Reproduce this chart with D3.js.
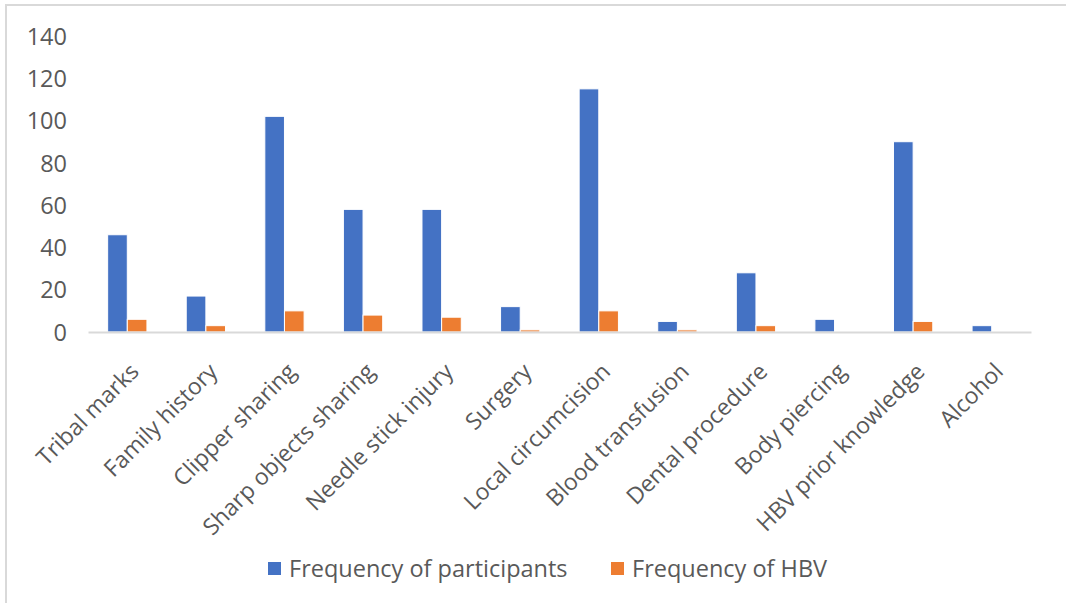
<!DOCTYPE html>
<html>
<head>
<meta charset="utf-8">
<script src="https://cdn.jsdelivr.net/npm/d3@7"></script>
<style>
  html, body { margin: 0; padding: 0; background: #fff; }
  svg { display: block; }
  text { font-family: "Open Sans", "Noto Sans", sans-serif; fill: #595959; }
</style>
</head>
<body>
<svg id="chart" width="1066" height="603"></svg>
<script>
// Risk factors and counts
const categories = [
  "Tribal marks", "Family history", "Clipper sharing", "Sharp objects sharing",
  "Needle stick injury", "Surgery", "Local circumcision", "Blood transfusion",
  "Dental procedure", "Body piercing", "HBV prior knowledge", "Alcohol"
];
const participants = [46, 17, 102, 58, 58, 12, 115, 5, 28, 6, 90, 3];
const hbv = [6, 3, 10, 8, 7, 1, 10, 1, 3, 0, 5, 0];
const seriesNames = ["Frequency of participants", "Frequency of HBV"];
const seriesColors = ["#4472C4", "#ED7D31"];
const yTicks = [0, 20, 40, 60, 80, 100, 120, 140];

const svg = d3.select("#chart");
const W = 1066, H = 603;
const plot = { left: 88, right: 1031, top: 36, bottom: 332 };
const fontSize = "23.5px";
const catFontSize = "23px";

// Outer frame (left and top edges)
svg.append("path")
  .attr("d", `M6,${H} L6,5 L${W},5`)
  .attr("fill", "none")
  .attr("stroke", "#d9d9d9")
  .attr("stroke-width", 2);

const x0 = d3.scaleBand().domain(categories).range([plot.left, plot.right]).paddingInner(0).paddingOuter(0);
const x1 = d3.scaleBand().domain(seriesNames).range([0, x0.bandwidth() * 0.5]);
const y = d3.scaleLinear().domain([0, 140]).range([plot.bottom, plot.top]);

// Y axis labels (no line, no ticks)
const yAxis = d3.axisLeft(y).tickValues(yTicks).tickSize(0).tickPadding(0);
const yg = svg.append("g").attr("transform", `translate(67,0)`).call(yAxis);
yg.select(".domain").remove();
yg.selectAll("text").style("font-size", fontSize).attr("fill", "#595959").attr("dy", "0.35em");

// Bars
const rows = categories.map((c, i) => ({ cat: c, vals: [participants[i], hbv[i]] }));
const groups = svg.append("g").selectAll("g").data(rows).join("g")
  .attr("transform", d => `translate(${x0(d.cat) + x0.bandwidth() * 0.25},0)`);
groups.selectAll("rect")
  .data(d => d.vals.map((v, k) => ({ name: seriesNames[k], v, k })))
  .join("rect")
  .attr("x", d => x1(d.name))
  .attr("width", x1.bandwidth())
  .attr("y", d => y(d.v))
  .attr("height", d => y(0) - y(d.v))
  .attr("fill", d => seriesColors[d.k])
  .attr("stroke", "#fff")
  .attr("stroke-width", 1);

// X axis line and rotated category labels
const xAxis = d3.axisBottom(x0).tickSize(0).tickPadding(0);
const xg = svg.append("g").attr("transform", `translate(0,${plot.bottom})`).call(xAxis);
xg.select(".domain").attr("stroke", "#d9d9d9").attr("stroke-width", 2);
xg.selectAll("text")
  .style("font-size", catFontSize)
  .attr("fill", "#595959")
  .attr("text-anchor", "end")
  .attr("dy", null)
  .attr("y", 0)
  .attr("transform", "translate(13,41) rotate(-45)");

// Legend
const legend = svg.append("g");
const legendItems = [
  { name: seriesNames[0], color: seriesColors[0], x: 268 },
  { name: seriesNames[1], color: seriesColors[1], x: 611 }
];
legendItems.forEach(it => {
  legend.append("rect").attr("x", it.x).attr("y", 562).attr("width", 13).attr("height", 13).attr("fill", it.color);
  legend.append("text").attr("x", it.x + 21).attr("y", 577).style("font-size", fontSize).text(it.name);
});
</script>
</body>
</html>
